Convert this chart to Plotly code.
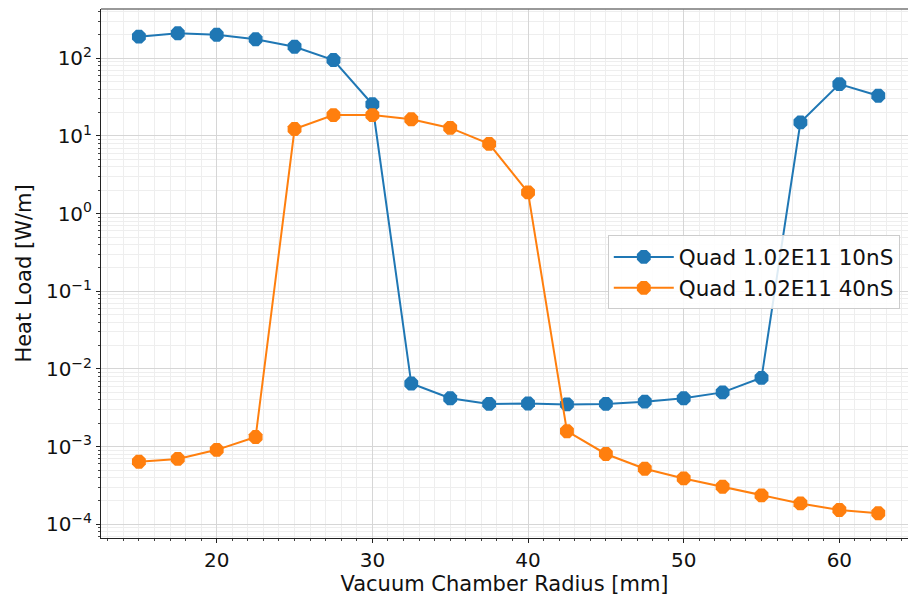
import plotly.graph_objects as go

# Vacuum chamber radius [mm]
radius = [15, 17.5, 20, 22.5, 25, 27.5, 30, 32.5, 35, 37.5,
          40, 42.5, 45, 47.5, 50, 52.5, 55, 57.5, 60, 62.5]

# Heat load [W/m] for the two bunch spacings
heat_10ns = [190, 210, 201, 176, 141, 95, 25.6, 6.5e-3, 4.2e-3, 3.55e-3,
             3.6e-3, 3.5e-3, 3.55e-3, 3.8e-3, 4.2e-3, 5.0e-3, 7.7e-3, 15.0, 46.5, 33.0]
heat_40ns = [6.4e-4, 6.95e-4, 9.1e-4, 1.33e-3, 12.3, 18.6, 18.6, 16.4, 12.7, 7.9,
             1.88, 1.58e-3, 8.05e-4, 5.2e-4, 3.9e-4, 3.05e-4, 2.36e-4, 1.86e-4, 1.53e-4, 1.39e-4]

series_names = ["Quad 1.02E11 10nS", "Quad 1.02E11 40nS"]
series_colors = ["#1f77b4", "#ff7f0e"]

y_exponents = [-4, -3, -2, -1, 0, 1, 2]
y_tickvals = [10.0 ** e for e in y_exponents]
y_ticktext = ["10<sup>%s</sup>" % (str(e).replace("-", "\u2212")) for e in y_exponents]
y_minor = [m * 10.0 ** e for e in range(-5, 3) for m in range(2, 10)]

FONT = "DejaVu Sans"

fig = go.Figure()
for name, ys, col in zip(series_names, [heat_10ns, heat_40ns], series_colors):
    fig.add_trace(go.Scatter(
        x=radius, y=ys, name=name, mode="lines+markers",
        line=dict(color=col, width=2),
        marker=dict(symbol="octagon", size=15, color=col, line=dict(width=0)),
    ))

fig.update_layout(
    width=908, height=598,
    margin=dict(l=101, r=0, t=9, b=60),
    paper_bgcolor="white", plot_bgcolor="white",
    font=dict(family=FONT, size=20, color="#111"),
    showlegend=True,
    legend=dict(
        x=0.628, y=0.572, xanchor="left", yanchor="top",
        bgcolor="rgba(255,255,255,0.85)", bordercolor="#cccccc", borderwidth=1,
        font=dict(family=FONT, size=21.5, color="#111"),
        itemwidth=60,
    ),
)

fig.update_xaxes(
    range=[12.566, 64.41],
    tickvals=[20, 30, 40, 50, 60],
    ticks="outside", ticklen=4, tickwidth=1, tickcolor="#222",
    showline=True, linecolor="#222", linewidth=1,
    showgrid=True, gridcolor="#d6d6d6", gridwidth=1,
    zeroline=False,
    tickfont=dict(family=FONT, size=20, color="#111"),
    title=dict(text="Vacuum Chamber Radius [mm]", font=dict(family=FONT, size=21, color="#111"), standoff=5),
    minor=dict(dtick=1, ticks="outside", ticklen=2, tickcolor="#444",
               showgrid=True, gridcolor="#eeeeee", gridwidth=1),
)

fig.update_yaxes(
    type="log",
    range=[-4.176, 2.635],
    tickvals=y_tickvals, ticktext=y_ticktext,
    ticks="outside", ticklen=4, tickwidth=1, tickcolor="#222",
    showline=True, linecolor="#222", linewidth=1,
    showgrid=True, gridcolor="#d6d6d6", gridwidth=1,
    zeroline=False,
    tickfont=dict(family=FONT, size=20, color="#111"),
    title=dict(text="Heat Load [W/m]", font=dict(family=FONT, size=21, color="#111"), standoff=8),
    minor=dict(tickvals=y_minor, ticks="outside", ticklen=2, tickcolor="#444",
               showgrid=True, gridcolor="#eeeeee", gridwidth=1),
)

# top frame line
fig.add_shape(type="line", xref="paper", yref="paper", x0=0, x1=1, y0=1, y1=1,
              line=dict(color="#777777", width=1.5))

fig.write_html("out.html")
